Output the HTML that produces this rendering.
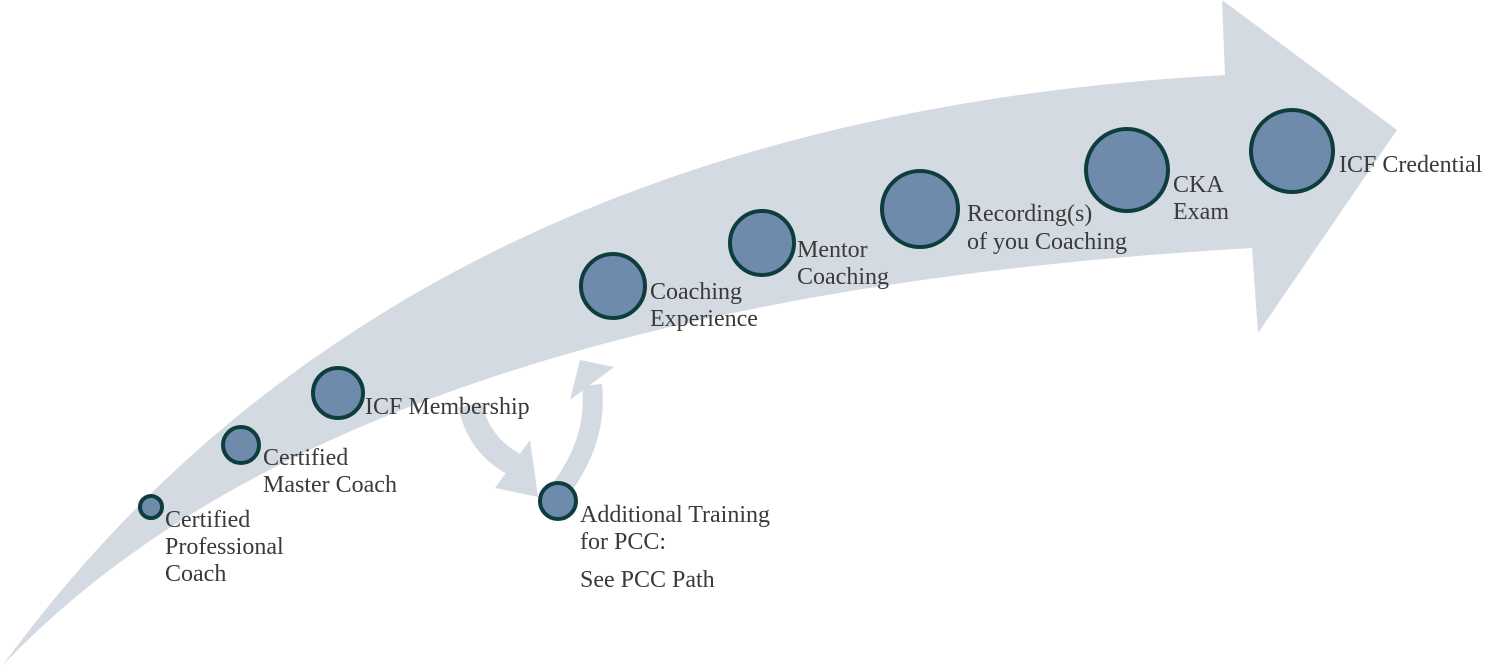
<!DOCTYPE html>
<html><head><style>
body{margin:0;background:#fff;}
svg text{font-family:"Liberation Serif","Times New Roman",serif;font-size:24px;fill:#3a3a3a;}
</style></head><body>
<svg width="1506" height="667" viewBox="0 0 1506 667" xmlns="http://www.w3.org/2000/svg" font-family="Liberation Serif, serif">
<path d="M3,665 Q400,120 1225,75 L1222,0 L1397,130 L1258,333 L1252,248 Q350,300 3,665 Z" fill="#d4dae2"/>
<path d="M470,405 Q480,450 522,468" stroke="#d4dae2" stroke-width="24" fill="none"/>
<polygon points="530,440 538,497 495,488" fill="#d4dae2"/>
<path d="M560,490 Q598,440 592,385" stroke="#d4dae2" stroke-width="20" fill="none"/>
<polygon points="570,400 580,360 614,367" fill="#d4dae2"/>
<g fill="#6f8bab" stroke="#0d3d3d" stroke-width="4">
<circle cx="151" cy="507" r="11"/>
<circle cx="241" cy="445" r="18"/>
<circle cx="338" cy="393" r="25"/>
<circle cx="558" cy="501" r="18"/>
<circle cx="613" cy="286" r="32"/>
<circle cx="762" cy="243" r="32"/>
<circle cx="920" cy="209" r="38"/>
<circle cx="1127" cy="170" r="41"/>
<circle cx="1292" cy="151" r="41"/>
</g>
<g font-family="Liberation Serif, serif" font-size="23">
<text x="165" y="527">Certified</text>
<text x="165" y="554">Professional</text>
<text x="165" y="581">Coach</text>
<text x="263" y="465">Certified</text>
<text x="263" y="492">Master Coach</text>
<text x="365" y="414">ICF Membership</text>
<text x="580" y="522">Additional Training</text>
<text x="580" y="549">for PCC:</text>
<text x="580" y="587">See PCC Path</text>
<text x="650" y="299">Coaching</text>
<text x="650" y="326">Experience</text>
<text x="797" y="257">Mentor</text>
<text x="797" y="284">Coaching</text>
<text x="967" y="221">Recording(s)</text>
<text x="967" y="249">of you Coaching</text>
<text x="1173" y="192">CKA</text>
<text x="1173" y="219">Exam</text>
<text x="1339" y="172">ICF Credential</text>
</g>
</svg>
</body></html>
